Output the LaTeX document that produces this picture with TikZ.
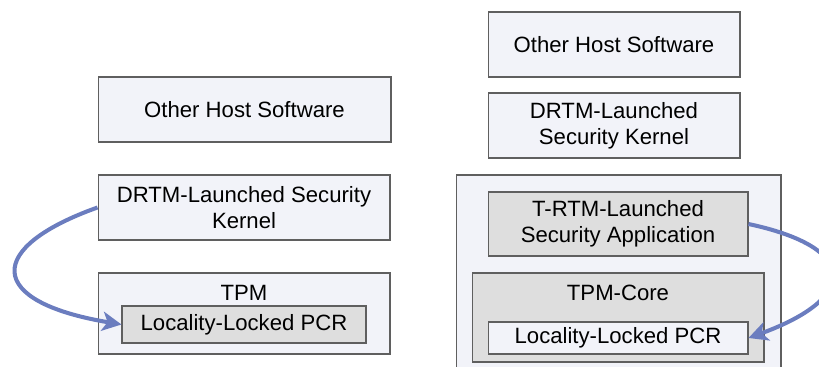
\documentclass[tikz,border=0pt]{standalone}
\usepackage{fontspec}
\setmainfont{Liberation Sans}
\usetikzlibrary{arrows.meta}

\definecolor{boxline}{HTML}{5F5F5F}
\definecolor{lightbox}{HTML}{F2F3F9}
\definecolor{greybox}{HTML}{DEDEDE}
\definecolor{flow}{HTML}{6B7DBF}

\tikzset{
  box/.style={draw=boxline, line width=0.6pt, fill=lightbox, align=center, inner sep=0pt},
  greyed/.style={box, fill=greybox},
  flowarrow/.style={draw=flow, line width=2.3pt, -{Stealth[length=11pt, width=11pt, inset=3pt]}}
}

\begin{document}
\fontsize{12.6pt}{14.7pt}\selectfont
\begin{tikzpicture}[x=0.02cm, y=-0.02cm]
\useasboundingbox (0, 0) rectangle (819, 367);
\clip (0, 0) rectangle (819, 367);

% left stack
\node[box, minimum width=5.86cm, minimum height=1.3cm] (lhost) at (244.5, 109.5) {Other Host Software};
\node[box, minimum width=5.84cm, minimum height=1.3cm] (lkern) at (244, 207.5) {DRTM-Launched Security\\Kernel};
\node[box, minimum width=5.84cm, minimum height=1.62cm] (ltpm) at (244, 313.5) {};
\node (ltpmtxt) at (244, 293) {TPM};
\node[greyed, minimum width=4.88cm, minimum height=0.74cm] (lpcr) at (244, 324.5) {Locality-Locked PCR};

% right stack
\node[box, minimum width=5.04cm, minimum height=1.3cm] (rhost) at (614, 44.5) {Other Host Software};
\node[box, minimum width=5.04cm, minimum height=1.3cm] (rkern) at (614, 125.5) {DRTM-Launched\\Security Kernel};
\node[box, minimum width=6.5cm, minimum height=4.3cm] (rtrust) at (618.5, 282.5) {};
\node[greyed, minimum width=5.2cm, minimum height=1.28cm] (rapp) at (618, 224) {T-RTM-Launched\\Security Application};
\node[greyed, minimum width=5.84cm, minimum height=1.78cm] (rcore) at (618, 317.5) {};
\node (rcoretxt) at (618, 293) {TPM-Core};
\node[box, minimum width=5.2cm, minimum height=0.64cm] (rpcr) at (618, 338) {Locality-Locked PCR};

% measurements into the PCRs
\draw[flowarrow] (lkern.west) .. controls +(-112, 40) and +(-137, -23) .. (lpcr.west);
\draw[flowarrow] (rapp.east) .. controls +(112, 24) and +(110, -40) .. (rpcr.east);
\end{tikzpicture}
\end{document}
